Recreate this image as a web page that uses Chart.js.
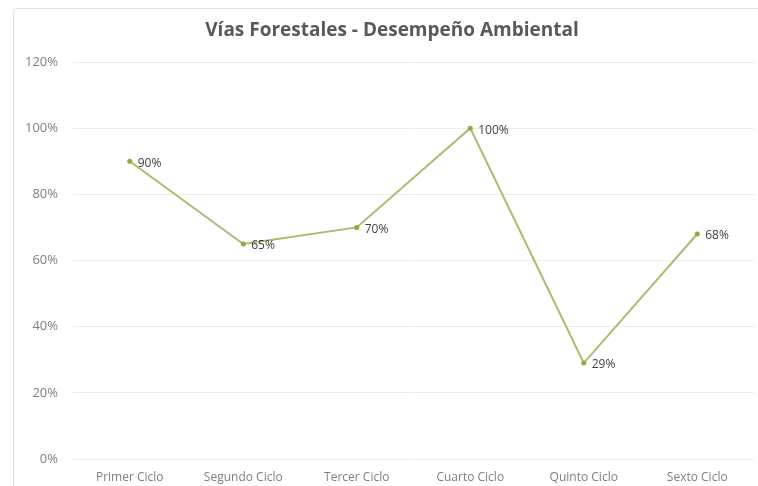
<!DOCTYPE html>
<html>
<head>
<meta charset="utf-8">
<script src="https://cdn.jsdelivr.net/npm/chart.js@4/dist/chart.umd.min.js"></script>
<style>
html,body{margin:0;padding:0;background:#fff;}
#wrap{position:relative;width:758px;height:486px;}
</style>
</head>
<body>
<div id="wrap"><canvas id="c" width="758" height="486"></canvas></div>
<script>
const titleText = "Vías Forestales - Desempeño Ambiental";
const categories = ["Primer Ciclo", "Segundo Ciclo", "Tercer Ciclo", "Cuarto Ciclo", "Quinto Ciclo", "Sexto Ciclo"];
const values = [90, 65, 70, 100, 29, 68];
const yTicks = [0, 20, 40, 60, 80, 100, 120];

const lineColor = "#a9bd6a";
const pointColor = "#8faa3f";

const borderPlugin = {
  id: "frame",
  beforeDraw(chart) {
    const ctx = chart.ctx;
    ctx.save();
    ctx.fillStyle = "#ffffff";
    ctx.fillRect(0, 0, chart.width, chart.height);
    ctx.strokeStyle = "#dedede";
    ctx.lineWidth = 1;
    ctx.beginPath();
    ctx.roundRect(13.5, 8.5, 770, 500, 4);
    ctx.stroke();
    ctx.restore();
  }
};

const titlePlugin = {
  id: "customTitle",
  afterDraw(chart) {
    const ctx = chart.ctx;
    ctx.save();
    ctx.font = "bold 19px 'Open Sans', sans-serif";
    ctx.fillStyle = "#595959";
    ctx.textAlign = "center";
    ctx.textBaseline = "middle";
    ctx.fillText(titleText, 392, 31);
    ctx.restore();
  }
};

const labelPlugin = {
  id: "valueLabels",
  afterDatasetsDraw(chart) {
    const ctx = chart.ctx;
    const meta = chart.getDatasetMeta(0);
    ctx.save();
    ctx.font = "12px 'Open Sans', sans-serif";
    ctx.fillStyle = "#404040";
    ctx.textAlign = "left";
    ctx.textBaseline = "middle";
    meta.data.forEach((pt, i) => {
      ctx.fillText(values[i] + "%", pt.x + 8, pt.y + 2);
    });
    ctx.restore();
  }
};

new Chart(document.getElementById("c"), {
  type: "line",
  data: {
    labels: categories,
    datasets: [{
      data: values,
      borderColor: lineColor,
      borderWidth: 2,
      pointRadius: 2.5,
      pointBackgroundColor: pointColor,
      pointBorderColor: pointColor,
      pointBorderWidth: 0,
      tension: 0,
      fill: false
    }]
  },
  options: {
    responsive: false,
    animation: false,
    devicePixelRatio: 1,
    layout: { padding: { left: 13, right: 2, top: 62, bottom: 0 } },
    plugins: {
      legend: { display: false },
      tooltip: { enabled: false },
      title: { display: false }
    },
    scales: {
      x: {
        offset: true,
        afterFit(scale) { scale.height = 27; },
        grid: { display: false, drawTicks: false },
        border: { display: false },
        ticks: {
          color: "#7f7f7f",
          font: { family: "'Open Sans', sans-serif", size: 12 },
          padding: 11,
          maxRotation: 0
        }
      },
      y: {
        min: 0,
        max: 120,
        afterFit(scale) { scale.width = 60; },
        afterBuildTicks(scale) { scale.ticks = yTicks.map(v => ({ value: v })); },
        grid: { color: "#ececec", lineWidth: 1, drawTicks: false },
        border: { display: false },
        ticks: {
          color: "#7f7f7f",
          font: { family: "'Open Sans', sans-serif", size: 13 },
          padding: 15,
          callback: v => v + "%"
        }
      }
    }
  },
  plugins: [borderPlugin, titlePlugin, labelPlugin]
});
</script>
</body>
</html>
